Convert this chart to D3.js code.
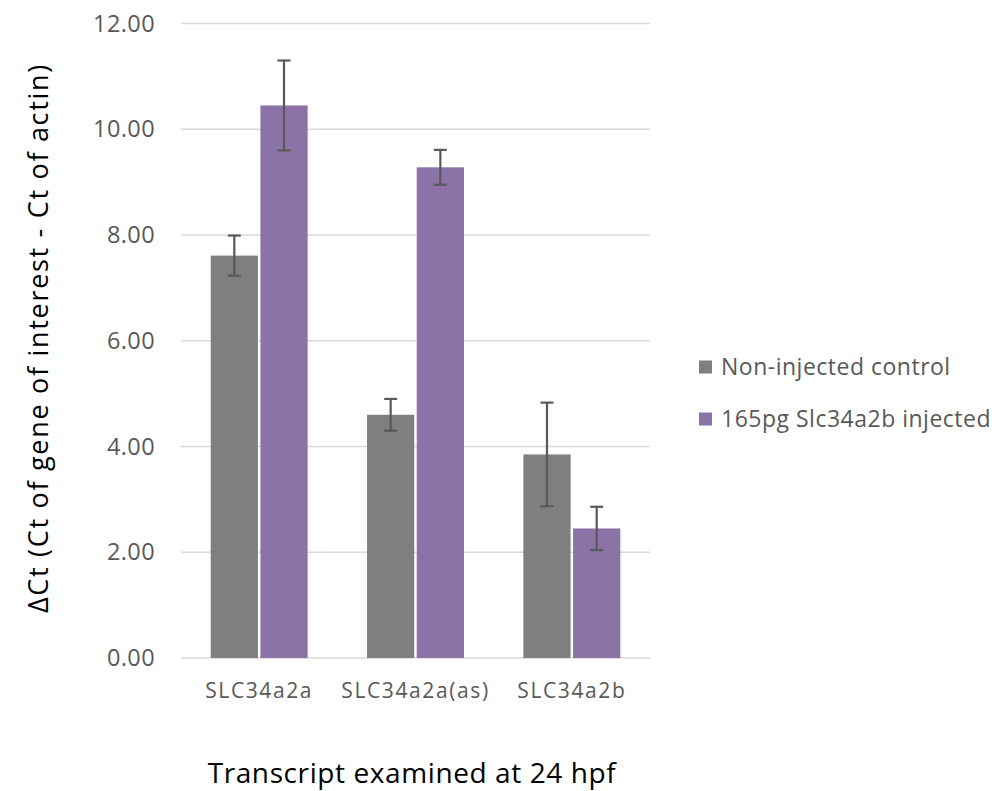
<!DOCTYPE html>
<html>
<head>
<meta charset="utf-8">
<script src="https://cdn.jsdelivr.net/npm/d3@7"></script>
<style>
  html, body { margin: 0; padding: 0; background: #fff; }
  svg { display: block; }
</style>
</head>
<body>
<svg id="chart" width="995" height="791"></svg>
<script>
// Transcripts examined and the two series (mean ΔCt with error)
const categories = ["SLC34a2a", "SLC34a2a(as)", "SLC34a2b"];
const seriesNames = ["Non-injected control", "165pg Slc34a2b injected"];
const controlValues = [7.61, 4.60, 3.85];
const controlErrors = [0.38, 0.30, 0.98];
const injectedValues = [10.45, 9.28, 2.45];
const injectedErrors = [0.85, 0.33, 0.41];
const yTicks = [0, 2, 4, 6, 8, 10, 12];

const colors = ["#7f7f7f", "#8b73a8"];
const font = "'Open Sans', 'DejaVu Sans', sans-serif";

const svg = d3.select("#chart");
const plot = { left: 181, right: 650, top: 23.5, bottom: 658 };

const x = d3.scaleBand().domain(categories).range([plot.left, plot.right]).paddingInner(0.38).paddingOuter(0.19);
const xs = d3.scaleBand().domain(seriesNames).range([0, x.bandwidth()]).paddingInner(0.05);
const y = d3.scaleLinear().domain([0, 12]).range([plot.bottom, plot.top]);

// Horizontal gridlines
svg.append("g")
  .selectAll("line")
  .data(yTicks)
  .join("line")
  .attr("x1", plot.left).attr("x2", plot.right)
  .attr("y1", d => y(d)).attr("y2", d => y(d))
  .attr("stroke", "#d9d9d9").attr("stroke-width", 1.5);

// Y axis tick labels
const yAxis = svg.append("g")
  .attr("transform", `translate(${plot.left - 26},0)`)
  .call(d3.axisLeft(y).tickValues(yTicks).tickFormat(d3.format(".2f")).tickSize(0).tickPadding(0));
yAxis.select(".domain").remove();
yAxis.selectAll("text")
  .attr("font-family", font).attr("font-size", 23.5).attr("letter-spacing", 0.4).attr("fill", "#595959");

// X axis category labels
const xAxis = svg.append("g")
  .attr("transform", `translate(0,${plot.bottom})`)
  .call(d3.axisBottom(x).tickSize(0).tickPadding(25));
xAxis.select(".domain").remove();
xAxis.selectAll("text")
  .attr("font-family", font).attr("font-size", 21).attr("letter-spacing", 1.6).attr("fill", "#595959");

const rows = categories.map((c, i) => ({
  category: c,
  items: [
    { series: seriesNames[0], value: controlValues[i], err: controlErrors[i], color: colors[0] },
    { series: seriesNames[1], value: injectedValues[i], err: injectedErrors[i], color: colors[1] }
  ]
}));

const groups = svg.append("g")
  .selectAll("g")
  .data(rows)
  .join("g")
  .attr("transform", d => `translate(${x(d.category)},0)`);

// Bars
groups.selectAll("rect")
  .data(d => d.items)
  .join("rect")
  .attr("x", d => xs(d.series))
  .attr("width", xs.bandwidth())
  .attr("y", d => y(d.value))
  .attr("height", d => y(0) - y(d.value))
  .attr("fill", d => d.color);

// Error bars
const eb = groups.selectAll("g.err")
  .data(d => d.items)
  .join("g")
  .attr("class", "err")
  .attr("stroke", "#595959")
  .attr("stroke-width", 2.2);
eb.append("line")
  .attr("x1", d => xs(d.series) + xs.bandwidth() / 2)
  .attr("x2", d => xs(d.series) + xs.bandwidth() / 2)
  .attr("y1", d => y(d.value + d.err))
  .attr("y2", d => y(d.value - d.err));
[1, -1].forEach(s => {
  eb.append("line")
    .attr("x1", d => xs(d.series) + xs.bandwidth() / 2 - 6.5)
    .attr("x2", d => xs(d.series) + xs.bandwidth() / 2 + 6.5)
    .attr("y1", d => y(d.value + s * d.err))
    .attr("y2", d => y(d.value + s * d.err));
});

// Axis titles
svg.append("text")
  .attr("transform", "translate(48,338) rotate(-90)")
  .attr("text-anchor", "middle")
  .attr("font-family", font).attr("font-size", 27).attr("letter-spacing", 1.7).attr("fill", "#000")
  .text("ΔCt (Ct of gene of interest - Ct of actin)");

svg.append("text")
  .attr("x", 412)
  .attr("y", 783)
  .attr("text-anchor", "middle")
  .attr("font-family", font).attr("font-size", 28).attr("letter-spacing", 0.6).attr("fill", "#000")
  .text("Transcript examined at 24 hpf");

// Legend
const legend = svg.append("g")
  .selectAll("g")
  .data(seriesNames)
  .join("g")
  .attr("transform", (d, i) => `translate(699,${367 + i * 52})`);
legend.append("rect")
  .attr("x", 0).attr("y", -6.5).attr("width", 13).attr("height", 13)
  .attr("fill", (d, i) => colors[i]);
legend.append("text")
  .attr("x", 22).attr("dy", "0.35em")
  .attr("font-family", font).attr("font-size", 23).attr("letter-spacing", 0.5).attr("fill", "#595959")
  .text(d => d);
</script>
</body>
</html>
